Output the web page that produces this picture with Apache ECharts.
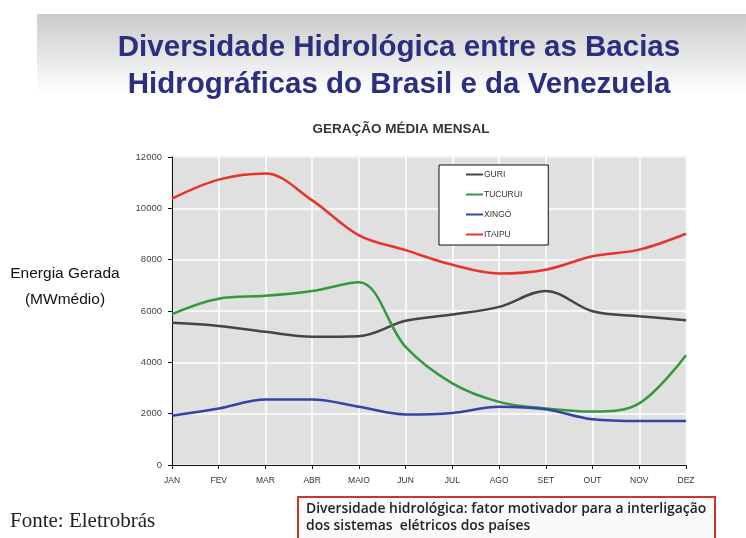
<!DOCTYPE html>
<html lang="pt">
<head>
    <meta charset="UTF-8">
    <title>Diversidade Hidrológica</title>
    <script src="https://cdn.jsdelivr.net/npm/echarts@6/dist/echarts.min.js"></script>
    <style>
        html, body { margin: 0; padding: 0; background: #fff; }
        #graph { width: 746px; height: 538px; }
    </style>
</head>
<body>
<div id="graph"></div>
<script>
    // dados (MW medio)
    var meses = ['JAN', 'FEV', 'MAR', 'ABR', 'MAIO', 'JUN', 'JUL', 'AGO', 'SET', 'OUT', 'NOV', 'DEZ'];
    var guri    = [5540, 5420, 5190, 5000, 5020, 5620, 5860, 6160, 6780, 5990, 5800, 5640];
    var tucurui = [5880, 6480, 6590, 6780, 7120, 4600, 3180, 2460, 2200, 2080, 2400, 4280];
    var xingo   = [1920, 2200, 2550, 2550, 2270, 1970, 2030, 2270, 2170, 1780, 1710, 1710];
    var itaipu  = [10380, 11120, 11360, 10310, 8950, 8370, 7800, 7460, 7610, 8130, 8390, 9010];
    var yTicks  = [0, 2000, 4000, 6000, 8000, 10000, 12000];

    var myChart = echarts.init(document.getElementById('graph'));

    function serie(nome, dados, cor) {
        return {
            name: nome,
            type: 'line',
            data: dados,
            smooth: 0.35,
            symbol: 'none',
            lineStyle: { color: cor, width: 2.5 },
            itemStyle: { color: cor }
        };
    }

    var option = {
        backgroundColor: '#fff',
        animation: false,
        title: {
            text: 'Diversidade Hidrológica entre as Bacias\nHidrográficas do Brasil e da Venezuela',
            left: 394,
            textAlign: 'center',
            top: 24,
            textStyle: {
                fontFamily: 'Liberation Sans',
                fontSize: 29.5,
                fontWeight: 'bold',
                color: '#2b2f80',
                lineHeight: 37
            }
        },
        graphic: [
            {   // faixa cinza do slide
                type: 'rect', z: -10, silent: true,
                shape: { x: 37, y: 14, width: 709, height: 80 },
                style: {
                    fill: new echarts.graphic.LinearGradient(0, 0, 0, 1, [
                        { offset: 0, color: '#cbcbcb' },
                        { offset: 1, color: '#ffffff' }
                    ])
                }
            },
            {
                type: 'text',
                style: {
                    text: 'GERAÇÃO MÉDIA MENSAL', x: 401, y: 129,
                    align: 'center', verticalAlign: 'middle',
                    font: 'bold 13.5px "Liberation Sans"', fill: '#333'
                }
            },
            {
                type: 'text',
                style: {
                    text: 'Energia Gerada\n(MWmédio)', x: 65, y: 287,
                    align: 'center', verticalAlign: 'middle',
                    font: '15.5px "Liberation Sans"', fill: '#111', lineHeight: 26
                }
            },
            {
                type: 'text',
                style: {
                    text: 'Fonte: Eletrobrás', x: 10, y: 521,
                    verticalAlign: 'middle',
                    font: '21px "Liberation Serif"', fill: '#222'
                }
            },
            {
                type: 'rect', silent: true,
                shape: { x: 298, y: 497, width: 417, height: 50 },
                style: { fill: '#fafafa', stroke: '#c8372d', lineWidth: 2 }
            },
            {
                type: 'text',
                style: {
                    text: 'Diversidade hidrológica: fator motivador para a interligação\ndos sistemas  elétricos dos países',
                    x: 306, y: 518, verticalAlign: 'middle',
                    font: '600 13.9px "Open Sans"', fill: '#222', lineHeight: 17
                }
            }
        ],
        legend: {
            data: ['GURI', 'TUCURUI', 'XINGÓ', 'ITAIPU'],
            orient: 'vertical',
            left: 439,
            top: 165,
            backgroundColor: '#fff',
            borderColor: '#111',
            borderWidth: 1,
            borderRadius: 0,
            padding: [5, 26, 6, 27],
            itemGap: 11,
            itemWidth: 17,
            itemHeight: 2,
            icon: 'rect',
            textStyle: { fontFamily: 'Liberation Sans', fontSize: 8.5, color: '#333', padding: [0, 0, 0, -4] }
        },
        grid: {
            left: 172,
            right: 60,
            top: 157,
            bottom: 73,
            show: true,
            backgroundColor: '#e0e0e0',
            borderColor: '#999',
            borderWidth: 1
        },
        xAxis: {
            type: 'category',
            data: meses,
            boundaryGap: false,
            axisLine: { lineStyle: { color: '#111', width: 1 } },
            axisTick: { show: true, length: 4, lineStyle: { color: '#111' } },
            axisLabel: { fontFamily: 'Liberation Sans', fontSize: 8.5, color: '#333', margin: 11, interval: 0 },
            splitLine: { show: true, lineStyle: { color: '#fff', width: 1.5 } }
        },
        yAxis: {
            type: 'value',
            min: yTicks[0],
            max: yTicks[yTicks.length - 1],
            interval: 2000,
            axisLine: { show: true, lineStyle: { color: '#111', width: 1 } },
            axisTick: { show: true, length: 4, lineStyle: { color: '#111' } },
            axisLabel: {
                fontFamily: 'Liberation Sans', fontSize: 9.5, color: '#444', margin: 10,
                formatter: function (v) { return String(v); }
            },
            splitLine: { show: true, lineStyle: { color: '#fff', width: 1.5 } }
        },
        series: [
            serie('GURI', guri, '#444444'),
            serie('TUCURUI', tucurui, '#34993c'),
            serie('XINGÓ', xingo, '#3443a8'),
            serie('ITAIPU', itaipu, '#e8332b')
        ]
    };

    myChart.setOption(option);
</script>
</body>
</html>
